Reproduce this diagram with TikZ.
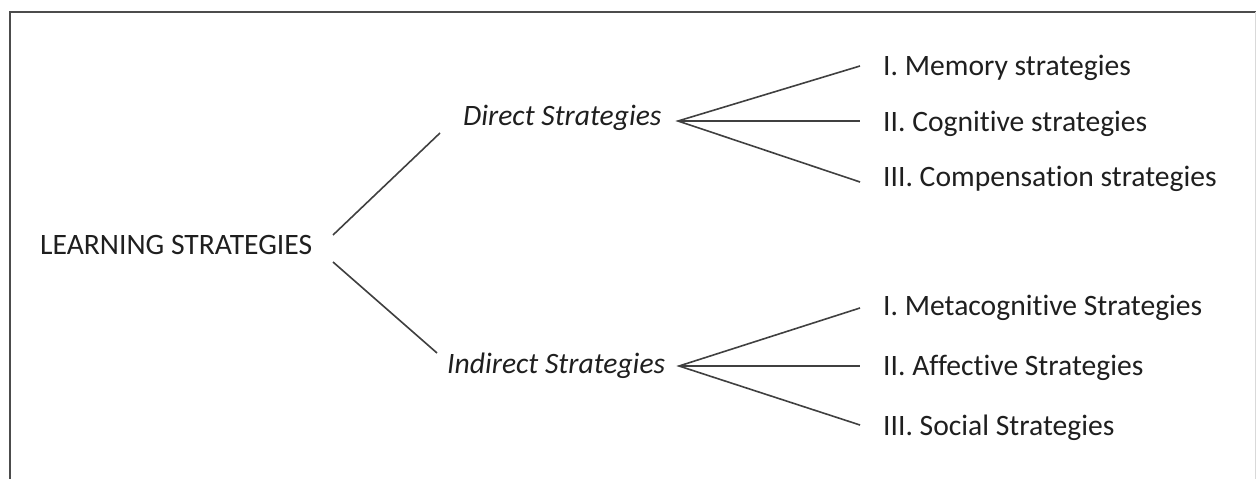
\documentclass[tikz,border=0pt]{standalone}
\usepackage{fontspec}
\setmainfont{Carlito}[Ligatures=NoCommon]
\begin{document}
\begin{tikzpicture}[x=1pt,y=-1pt,
  lbl/.style={anchor=base west,inner sep=0pt,font=\fontsize{29.6}{34}\selectfont,text=black!88},
  conn/.style={draw=black!75,line width=1.6pt},
  frame/.style={draw=black!70,line width=1.6pt}]
\useasboundingbox (0,0) rectangle (1256,479);
% frame
\draw[frame] (10,479) -- (10,12) -- (1256,12);
\draw[draw=black!15,line width=1pt] (1255,12) -- (1255,479);
% nodes
\node[lbl] (root) at (40,254) {LEARNING STRATEGIES};
\node[lbl] (direct) at (463,125) {\itshape Direct Strategies};
\node[lbl] (indirect) at (447,373) {\itshape Indirect Strategies};
\node[lbl] (d1) at (883,75) {I. Memory strategies};
\node[lbl] (d2) at (883,131) {II. Cognitive strategies};
\node[lbl] (d3) at (883,186) {III. Compensation strategies};
\node[lbl] (i1) at (883,315) {I. Metacognitive Strategies};
\node[lbl] (i2) at (883,375) {II. Affective Strategies};
\node[lbl] (i3) at (883,435) {III. Social Strategies};
% connector ends
\coordinate (rootU) at (333,235);
\coordinate (rootD) at (333,262);
\coordinate (dirIn) at (440,133);
\coordinate (indIn) at (437,353);
\coordinate (dApex) at (678,121);
\coordinate (iApex) at (679,366);
\coordinate (d1in) at (860,66);
\coordinate (d2in) at (860,121);
\coordinate (d3in) at (860,182);
\coordinate (i1in) at (860,308);
\coordinate (i2in) at (860,366);
\coordinate (i3in) at (860,425);
\draw[conn] (rootU) -- (dirIn);
\draw[conn] (rootD) -- (indIn);
\draw[conn] (d1in) -- (dApex) -- (d3in);
\draw[conn] (dApex) -- (d2in);
\draw[conn] (i1in) -- (iApex) -- (i3in);
\draw[conn] (iApex) -- (i2in);
\end{tikzpicture}
\end{document}
